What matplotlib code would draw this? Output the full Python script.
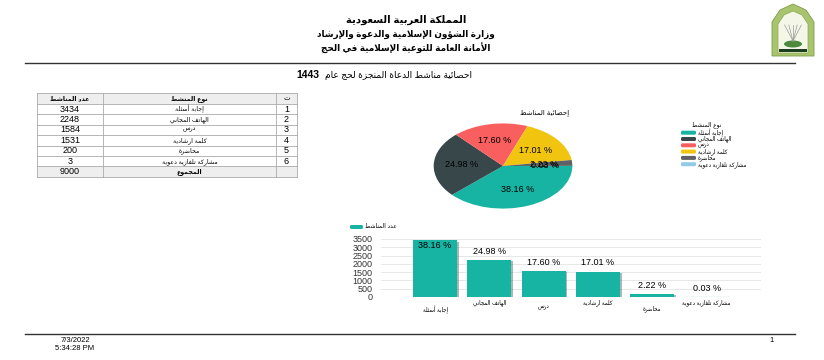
import re
import matplotlib
matplotlib.use('Agg')
import matplotlib.pyplot as plt
import matplotlib.patheffects as pe
from matplotlib.patches import Rectangle, FancyBboxPatch, Polygon, Ellipse

plt.rcParams['font.family'] = ['Liberation Sans', 'DejaVu Sans']

# report data
header_lines = ['المملكة العربية السعودية',
                'وزارة الشؤون الإسلامية والدعوة والإرشاد',
                'الأمانة العامة للتوعية الإسلامية في الحج']
report_title = 'احصائية مناشط الدعاة المنجزة لحج عام'
report_year = '1443'
activities = ['إجابة أسئلة', 'الهاتف المجاني', 'درس', 'كلمة ارشادية',
              'محاضرة', 'مشاركة تلفازية دعوية']
counts = [3434, 2248, 1584, 1531, 200, 3]
col_count = 'عدد المناشط'
col_type = 'نوع المنشط'
col_num = 'ت'
total_label = 'المجموع'
pie_title = 'إحصائية المناشط'
legend_title = 'نوع المنشط'
pie_colors = ['#17b3a3', '#37474a', '#f95f5f', '#f1c40f', '#5e6264', '#8fcbe6']
bar_color = '#17b3a3'
print_date = '7/3/2022'
print_time = '5:34:28 PM'
page_no = '1'

# --- minimal arabic shaping (presentation forms B) + visual order ---
_seq = [('\u0621', 1), ('\u0622', 2), ('\u0623', 2), ('\u0624', 2), ('\u0625', 2),
        ('\u0626', 4), ('\u0627', 2), ('\u0628', 4), ('\u0629', 2), ('\u062A', 4),
        ('\u062B', 4), ('\u062C', 4), ('\u062D', 4), ('\u062E', 4), ('\u062F', 2),
        ('\u0630', 2), ('\u0631', 2), ('\u0632', 2), ('\u0633', 4), ('\u0634', 4),
        ('\u0635', 4), ('\u0636', 4), ('\u0637', 4), ('\u0638', 4), ('\u0639', 4),
        ('\u063A', 4), ('\u0641', 4), ('\u0642', 4), ('\u0643', 4), ('\u0644', 4),
        ('\u0645', 4), ('\u0646', 4), ('\u0647', 4), ('\u0648', 2), ('\u0649', 2),
        ('\u064A', 4)]
FORMS = {}
_c = 0xFE80
for ch, n in _seq:
    FORMS[ch] = (_c, n)
    _c += n
LAMALEF = {'\u0622': 0xFEF5, '\u0623': 0xFEF7, '\u0625': 0xFEF9, '\u0627': 0xFEFB}


def ar(s):
    units = []
    i = 0
    while i < len(s):
        if s[i] == '\u0644' and i + 1 < len(s) and s[i + 1] in LAMALEF:
            units.append(('LA', s[i + 1]))
            i += 2
        else:
            units.append((s[i], None))
            i += 1

    def joins(u):
        return u[0] == 'LA' or u[0] in FORMS

    def dual(u):
        return u[0] in FORMS and FORMS[u[0]][1] == 4

    res = []
    for k, u in enumerate(units):
        p = k > 0 and dual(units[k - 1])
        if u[0] == 'LA':
            res.append(chr(LAMALEF[u[1]] + (1 if p else 0)))
            continue
        if u[0] not in FORMS:
            res.append(u[0])
            continue
        start, n = FORMS[u[0]]
        nx = n == 4 and k + 1 < len(units) and joins(units[k + 1])
        if n == 1:
            idx = 0
        elif n == 2:
            idx = 1 if p else 0
        else:
            idx = 3 if (p and nx) else 1 if p else 2 if nx else 0
        res.append(chr(start + idx))
    vis = ''.join(res)[::-1]
    return re.sub(r'[0-9A-Za-z.:/%]+', lambda m: m.group(0)[::-1], vis)


fig = plt.figure(figsize=(8.24, 3.6), dpi=100)
bg = fig.add_axes([0, 0, 1, 1])
bg.set_xlim(0, 824)
bg.set_ylim(360, 0)
bg.axis('off')

# header
for txt, y, fs in zip(header_lines, [20, 34, 48], [7.3, 6.4, 6.4]):
    bg.text(406, y, ar(txt), ha='center', va='center', fontsize=fs, fontweight='bold')
bg.plot([25, 795], [63, 63], color='#333333', lw=1)
bg.text(472, 75, ar(report_title), ha='right', va='center', fontsize=6.5)
bg.text(296, 75, report_year, ha='left', va='center', fontsize=7.5, fontweight='bold')

# logo (simple arch emblem)
bg.add_patch(Polygon([(772, 56), (772, 22), (780, 10), (793, 4), (806, 10), (814, 22), (814, 56)],
                     closed=True, fc='#a9c46f', ec='#7d9c45', lw=0.6))
bg.add_patch(Polygon([(778, 53), (778, 24), (784, 15), (793, 11), (802, 15), (808, 24), (808, 53)],
                     closed=True, fc='#f4f7e8', ec='#8aa84f', lw=0.5))
bg.add_patch(Ellipse((793, 44), 18, 7, fc='#4e8a3c', ec='none'))
bg.add_patch(Rectangle((779, 49), 28, 3, fc='#1f3d1f', ec='none'))
for dx in (-6, -3, 0, 3, 6):
    bg.plot([793, 793 + dx * 1.4], [41, 25], color='#9a9a9a', lw=0.5)

# table
tx = [37, 103, 276, 297]
ty0, hh, rh = 93, 11, 10.4
nrows = len(counts)
bottom = ty0 + hh + rh * (nrows + 1)
bg.add_patch(Rectangle((tx[0], ty0), tx[3] - tx[0], hh, fc='#eeeeee', ec='none'))
bg.add_patch(Rectangle((tx[0], ty0 + hh + rh * nrows), tx[3] - tx[0], rh, fc='#eeeeee', ec='none'))
ys = [ty0, ty0 + hh] + [ty0 + hh + rh * (i + 1) for i in range(nrows + 1)]
for y in ys:
    bg.plot([tx[0], tx[3]], [y, y], color='#aaaaaa', lw=0.6)
for x in tx:
    bg.plot([x, x], [ty0, bottom], color='#aaaaaa', lw=0.6)
hy = ty0 + hh / 2
bg.text((tx[0] + tx[1]) / 2, hy, ar(col_count), ha='center', va='center', fontsize=4.5, fontweight='bold')
bg.text((tx[1] + tx[2]) / 2, hy, ar(col_type), ha='center', va='center', fontsize=4.5, fontweight='bold')
bg.text((tx[2] + tx[3]) / 2, hy, ar(col_num), ha='center', va='center', fontsize=5)
for i, (name, c) in enumerate(zip(activities, counts)):
    cy = ty0 + hh + rh * (i + 0.5)
    bg.text((tx[0] + tx[1]) / 2, cy, str(c), ha='center', va='center', fontsize=6.5)
    bg.text((tx[1] + tx[2]) / 2, cy, ar(name), ha='center', va='center', fontsize=4.5)
    bg.text((tx[2] + tx[3]) / 2, cy, str(i + 1), ha='center', va='center', fontsize=6.5)
cy = ty0 + hh + rh * (nrows + 0.5)
bg.text((tx[0] + tx[1]) / 2, cy, str(sum(counts)), ha='center', va='center', fontsize=6.5)
bg.text((tx[1] + tx[2]) / 2, cy, ar(total_label), ha='center', va='center', fontsize=4.5, fontweight='bold')

# pie
bg.text(545, 113, ar(pie_title), ha='center', va='center', fontsize=5)
pax = fig.add_axes([433 / 824, 1 - 209 / 360, 140 / 824, 86 / 360])
wedges, _, autotexts = pax.pie(counts, colors=pie_colors, startangle=0, counterclock=False,
                               autopct=lambda p: '%.2f %%' % p, pctdistance=0.6,
                               textprops={'fontsize': 6.5, 'color': 'black'})
pax.set_aspect('auto')
pax.set_xlim(-1.01, 1.01)
pax.set_ylim(-1.01, 1.01)

# pie legend
bg.text(707, 125, ar(legend_title), ha='center', va='center', fontsize=4.2)
for i, (name, col) in enumerate(zip(activities, pie_colors)):
    y = 132.7 + 6.3 * i
    bg.add_patch(FancyBboxPatch((681, y - 2), 15, 4, boxstyle='round,pad=0,rounding_size=1.5',
                                fc=col, ec='none'))
    bg.text(698, y, ar(name), ha='left', va='center', fontsize=4.0)

# bar chart
bax = fig.add_axes([380.7 / 824, 1 - 297 / 360, 380.3 / 824, 58 / 360])
xs = list(range(len(counts)))
bars = bax.bar(xs, counts, width=0.81, color=bar_color, zorder=3)
bars[-1].set_color('#b9e3de')
for b in bars:
    b.set_path_effects([pe.SimplePatchShadow(offset=(1.2, -1.2), alpha=0.35), pe.Normal()])
bax.set_xlim(-1, 6)
bax.set_ylim(0, 3500)
bax.set_yticks(range(0, 3501, 500))
bax.grid(axis='y', color='#e3e3e3', lw=0.6, zorder=0)
for s in bax.spines.values():
    s.set_visible(False)
bax.tick_params(axis='y', length=0, labelsize=6.5, pad=6, labelcolor='#333333')
bax.set_xticks(xs[0::2], [ar(a) for a in activities[0::2]])
bax.set_xticks(xs[1::2], [ar(a) for a in activities[1::2]], minor=True)
bax.tick_params(axis='x', which='both', length=0, labelsize=4)
bax.tick_params(axis='x', which='major', pad=6)
bax.tick_params(axis='x', which='minor', pad=1.5)
total = sum(counts)
for x, c in zip(xs, counts):
    lab = '%.2f %%' % (100.0 * c / total)
    if c > 3000:
        bax.annotate(lab, (x, c), xytext=(0, -1), textcoords='offset points',
                     ha='center', va='top', fontsize=6.5, zorder=5)
    else:
        bax.annotate(lab, (x, c), xytext=(0, 3), textcoords='offset points',
                     ha='center', va='bottom', fontsize=6.5, zorder=5)

# bar legend
bg.add_patch(FancyBboxPatch((350, 225), 13, 4, boxstyle='round,pad=0,rounding_size=1.5',
                            fc=bar_color, ec='none'))
bg.text(365, 227, ar(col_count), ha='left', va='center', fontsize=4.2)

# footer
bg.plot([25, 795], [334, 334], color='#333333', lw=1)
bg.text(75, 341, print_date, ha='center', va='center', fontsize=5.5)
bg.text(75, 349, print_time, ha='center', va='center', fontsize=5.5)
bg.text(772, 341, page_no, ha='center', va='center', fontsize=5.5)

fig.savefig('out.png', dpi=100)
